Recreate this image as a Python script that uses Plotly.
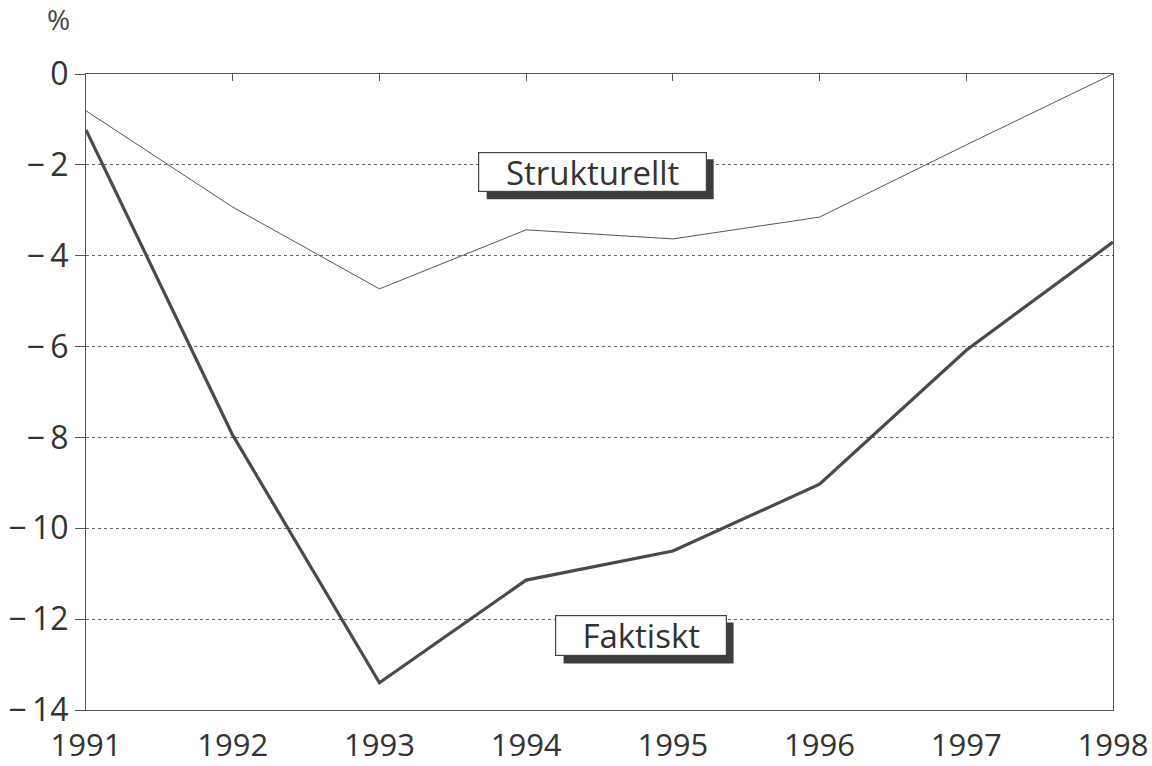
import plotly.graph_objects as go

years = [1991, 1992, 1993, 1994, 1995, 1996, 1997, 1998]
strukturellt = [-0.81, -2.93, -4.73, -3.43, -3.63, -3.15, -1.56, 0.0]
faktiskt = [-1.23, -7.95, -13.4, -11.14, -10.5, -9.03, -6.08, -3.7]
ytick_vals = [0, -2, -4, -6, -8, -10, -12, -14]
ytick_text = ["0", "−\u20092", "−\u20094", "−\u20096", "−\u20098", "−\u200910", "−\u200912", "−\u200914"]
xtick_text = [str(y) for y in years]

FONT = "Open Sans"
AX = "#555555"
W, H = 1152, 766
ML, MR, MT, MB = 86, 39, 74, 56
PW, PH = W - ML - MR, H - MT - MB
X0, X1, Y0, Y1 = 1991, 1998, -14, 0
dx = (X1 - X0) / PW   # data units per pixel
dy = (Y1 - Y0) / PH

fig = go.Figure()
fig.add_trace(go.Scatter(x=years, y=strukturellt, mode="lines",
                         line=dict(color="#555555", width=1), name="Strukturellt",
                         showlegend=False))
fig.add_trace(go.Scatter(x=years, y=faktiskt, mode="lines",
                         line=dict(color="#4a4a4a", width=3.2), name="Faktiskt",
                         showlegend=False))
# top axis ticks (inside)
fig.add_trace(go.Scatter(x=years, y=[None]*len(years), xaxis="x2", showlegend=False,
                         hoverinfo="skip"))

def label(text, x, y, wpx, hpx):
    # shadow
    fig.add_shape(type="rect", xref="x", yref="y", layer="above",
                  x0=x - wpx/2*dx + 9*dx, x1=x + wpx/2*dx + 7*dx,
                  y0=y - hpx/2*dy - 7*dy, y1=y + hpx/2*dy - 7*dy,
                  fillcolor="#3c3c3c", line=dict(width=0))
    fig.add_annotation(x=x, y=y, text=text, showarrow=False,
                       width=wpx - 8, height=hpx - 8,
                       font=dict(family=FONT, size=33, color="#333333"),
                       bgcolor="white", borderpad=3, bordercolor="#444444", borderwidth=1.2)

label("Strukturellt", 1994.45, -2.16, 229, 40)
label("Faktiskt", 1994.78, -12.37, 172, 41)

fig.add_annotation(xref="paper", yref="paper", x=(58 - ML) / PW, y=1.0, yshift=55,
                   text="%", showarrow=False, xanchor="center", yanchor="middle",
                   font=dict(family=FONT, size=28, color="#444444"))

fig.update_layout(
    width=W, height=H,
    margin=dict(l=ML, r=MR, t=MT, b=MB, autoexpand=False),
    paper_bgcolor="white", plot_bgcolor="white",
    xaxis=dict(range=[X0, X1], tickvals=years, ticktext=xtick_text, automargin=False,
               showgrid=False, zeroline=False, showline=True, linecolor=AX, linewidth=1.2,
               mirror=True, ticks="", ticklabelstandoff=8,
               tickfont=dict(family=FONT, size=31, color="#333333")),
    xaxis2=dict(range=[X0, X1], overlaying="x", side="top", tickvals=years,
                showticklabels=False, ticks="inside", ticklen=7, tickcolor=AX,
                showgrid=False, zeroline=False, showline=False, automargin=False),
    yaxis=dict(range=[Y0, Y1], tickvals=ytick_vals, ticktext=ytick_text, automargin=False,
               showgrid=True, gridcolor="#666666", griddash="dot", gridwidth=1,
               zeroline=False, showline=True, linecolor=AX, linewidth=1.2, mirror=True,
               ticks="outside", ticklen=10, tickcolor=AX,
               tickfont=dict(family=FONT, size=32, color="#333333")),
)

fig.write_html("out.html", config={"displayModeBar": False},
               post_script="document.body.style.margin='0';document.body.style.overflow='hidden';")
